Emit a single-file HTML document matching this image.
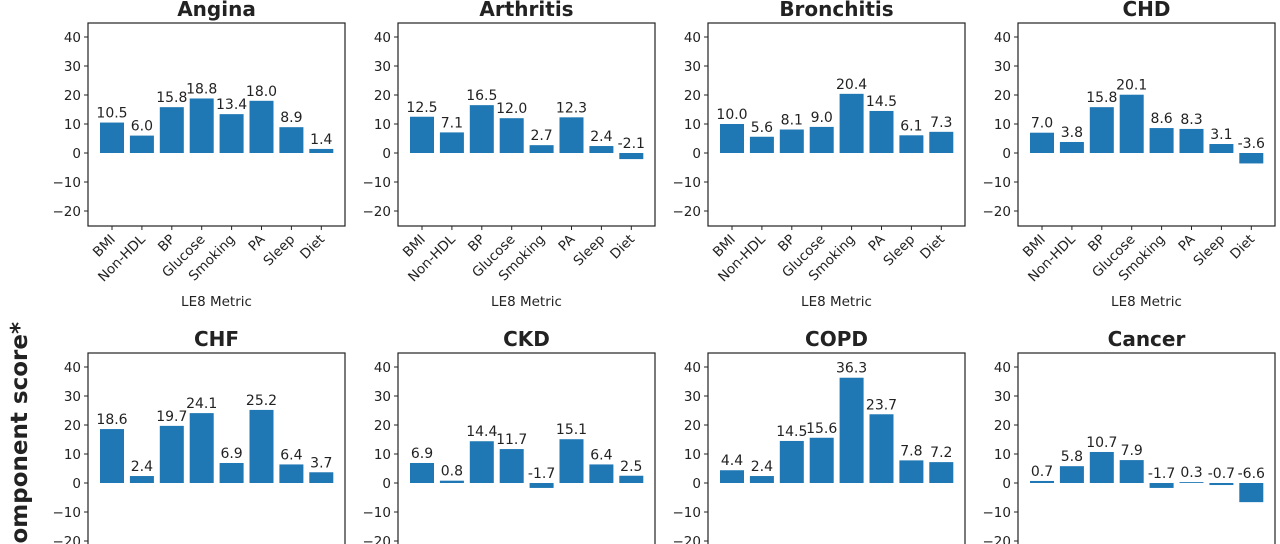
<!DOCTYPE html>
<html><head><meta charset="utf-8"><style>
body{margin:0;background:#fff;width:1280px;height:544px;overflow:hidden}
svg{display:block;overflow:hidden}
svg text{font-family:"DejaVu Sans","Liberation Sans",sans-serif;fill:#222}
</style></head><body>
<svg id="c" width="1280" height="544"></svg>
<script>
const categories=["BMI","Non-HDL","BP","Glucose","Smoking","PA","Sleep","Diet"];
const diseases=["Angina","Arthritis","Bronchitis","CHD","CHF","CKD","COPD","Cancer"];
const valsAngina=[10.5,6.0,15.8,18.8,13.4,18.0,8.9,1.4];
const valsArthritis=[12.5,7.1,16.5,12.0,2.7,12.3,2.4,-2.1];
const valsBronchitis=[10.0,5.6,8.1,9.0,20.4,14.5,6.1,7.3];
const valsCHD=[7.0,3.8,15.8,20.1,8.6,8.3,3.1,-3.6];
const valsCHF=[18.6,2.4,19.7,24.1,6.9,25.2,6.4,3.7];
const valsCKD=[6.9,0.8,14.4,11.7,-1.7,15.1,6.4,2.5];
const valsCOPD=[4.4,2.4,14.5,15.6,36.3,23.7,7.8,7.2];
const valsCancer=[0.7,5.8,10.7,7.9,-1.7,0.3,-0.7,-6.6];
const yTicks=[-20,-10,0,10,20,30,40];
const series=[valsAngina,valsArthritis,valsBronchitis,valsCHD,valsCHF,valsCKD,valsCOPD,valsCancer];
const NS="http://www.w3.org/2000/svg";
const svg=document.getElementById('c');
function mk(t,a,p){const e=document.createElementNS(NS,t);for(const k in a)e.setAttribute(k,a[k]);(p||svg).appendChild(e);return e;}
const ppu=2.9;
for(let p=0;p<8;p++){
  const col=p%4,row=Math.floor(p/4);
  const L=88+310*col,R=L+257,T=row?353:23,zero=row?483:153,B=zero+73;
  const y=v=>zero-v*ppu;
  const x=i=>L+24+i*29.9;
  const g=mk('g',{});
  
  
  const t=mk('text',{x:(L+R)/2,y:T-7,'text-anchor':'middle','font-size':'20','font-weight':'bold'},g);
  t.textContent=diseases[p];
  
  
  yTicks.forEach(v=>{
    mk('line',{x1:L-4,x2:L,y1:y(v),y2:y(v),stroke:'#222'},g);
    const tt=mk('text',{x:L-7,y:y(v)+5,'text-anchor':'end','font-size':'13.5'},g);
    tt.textContent=v<0?'\u2212'+(-v):v;
    
    
  });
  series[p].forEach((v,i)=>{
    const r=mk('rect',{x:x(i)-12,width:24,y:Math.min(y(v),zero),height:Math.abs(v)*ppu,fill:'#1f77b4'},g);
    
    
    const lt=mk('text',{x:x(i),y:(v>=0?y(v):zero)-5,'text-anchor':'middle','font-size':'14'},g);
    lt.textContent=v.toFixed(1);
    
    
    mk('line',{x1:x(i),x2:x(i),y1:B,y2:B+4,stroke:'#222'},g);
    const xl=mk('text',{x:x(i)+4,y:B+14,'text-anchor':'end','font-size':'13.5',transform:`rotate(-45 ${x(i)+4} ${B+14})`},g);
    xl.textContent=categories[i];
    
    
  });
  mk('rect',{x:L,y:T,width:R-L,height:B-T,fill:'none',stroke:'#222','stroke-width':'1.2'},g);
  const xt=mk('text',{x:(L+R)/2,y:B+80,'text-anchor':'middle','font-size':'13.5'},g);
  xt.textContent='LE8 Metric';
  
  
}
const yl=mk('text',{x:0,y:0,'text-anchor':'end','font-size':'23','font-weight':'bold',transform:'translate(27 322) rotate(-90)'});
yl.textContent='Change in LE8 component score*';


</script>
</body></html>
